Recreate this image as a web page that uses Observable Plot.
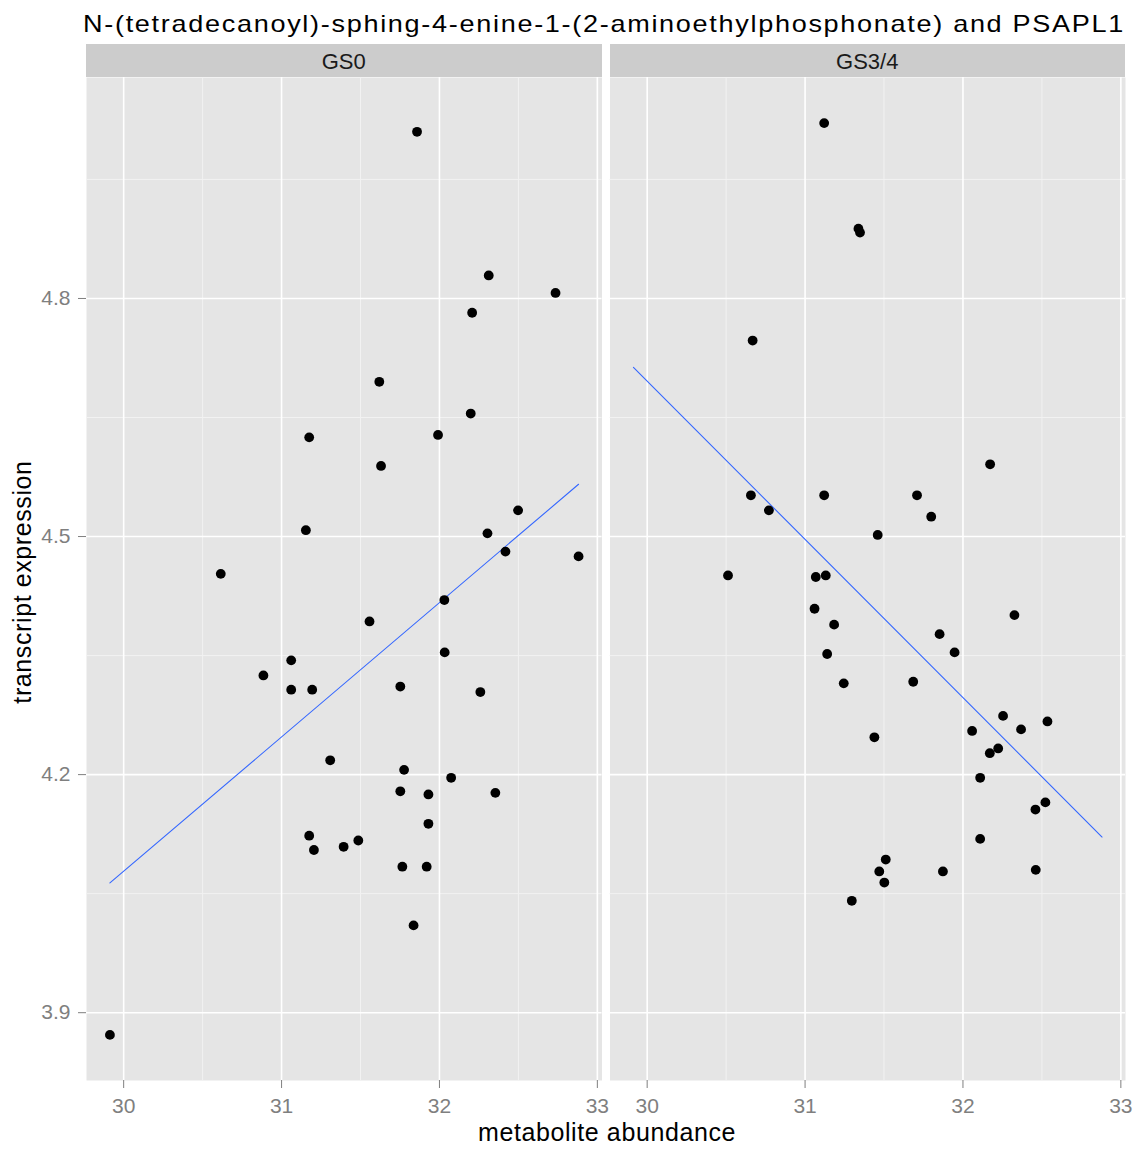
<!DOCTYPE html>
<html>
<head>
<meta charset="utf-8">
<script src="https://cdn.jsdelivr.net/npm/d3@7"></script>
<script src="https://cdn.jsdelivr.net/npm/@observablehq/plot@0.6"></script>
<style>
  body { margin: 0; background: #fff; font-family: "Liberation Sans", Arial, sans-serif; }
  #chart { position: relative; width: 1140px; height: 1149px; overflow: hidden; }
  .abs { position: absolute; white-space: nowrap; }
  .title { left: 604px; top: 12px; font-size: 24px; line-height: 24px; letter-spacing: 1.5px; color: #000; transform: translateX(-50%); transform-origin: 50% 50%; }
  .strip { top: 44px; height: 33px; background: #cccccc; color: #1a1a1a; font-size: 22px; line-height: 33px; text-align: center; padding-top: 1px; box-sizing: border-box; }
  .xtitle { left: 607px; top: 1120px; font-size: 25px; line-height: 25px; letter-spacing: 0.6px; color: #000; transform: translateX(-50%); }
  .ytitle { left: 22px; top: 582px; font-size: 25px; line-height: 25px; letter-spacing: 0.6px; color: #000; transform: translate(-50%, -50%) rotate(-90deg); }
  .panel { top: 77px; }
</style>
</head>
<body>
<div id="chart">
  <div class="abs title" id="title">N-(tetradecanoyl)-sphing-4-enine-1-(2-aminoethylphosphonate) and PSAPL1</div>
  <div class="abs strip" id="strip0" style="left:86px;width:515.5px">GS0</div>
  <div class="abs strip" id="strip1" style="left:609.5px;width:515.5px">GS3/4</div>
  <div class="abs panel" id="p0" style="left:0px"></div>
  <div class="abs panel" id="p1" style="left:609px"></div>
  <div class="abs xtitle">metabolite abundance</div>
  <div class="abs ytitle">transcript expression</div>
</div>
<script>
// Facets and axis ticks
const facets = ["GS0", "GS3/4"];
const xTicks = [30, 31, 32, 33];
const yTicks = [3.9, 4.2, 4.5, 4.8];

// GS0: metabolite abundance (x) and transcript expression (y)
const gs0X = [31.858, 32.312, 32.735, 32.207, 31.619, 32.198, 31.175, 31.991, 31.630, 32.498,
              31.154, 32.304, 32.418, 32.881, 30.615, 32.031, 31.557, 32.033, 31.061, 30.885,
              31.061, 31.194, 31.752, 32.259, 31.308, 31.776, 32.074, 31.752, 31.930, 32.354,
              31.930, 31.175, 31.205, 31.393, 31.486, 31.765, 31.919, 31.836, 29.913];
const gs0Y = [5.010, 4.829, 4.807, 4.782, 4.695, 4.655, 4.625, 4.628, 4.589, 4.533,
              4.508, 4.504, 4.481, 4.475, 4.453, 4.420, 4.393, 4.354, 4.344, 4.325,
              4.307, 4.307, 4.311, 4.304, 4.218, 4.206, 4.196, 4.179, 4.175, 4.177,
              4.138, 4.123, 4.105, 4.109, 4.117, 4.084, 4.084, 4.010, 3.872];

// GS3/4
const gs34X = [31.121, 31.338, 31.348, 30.668, 32.172, 30.657, 31.121, 31.709, 30.771, 31.799,
               31.460, 30.512, 31.068, 31.131, 31.060, 32.326, 31.184, 31.852, 31.140, 31.947,
               31.245, 31.685, 31.439, 32.254, 32.535, 32.058, 32.368, 32.170, 32.223, 32.109,
               32.522, 32.459, 32.109, 31.511, 31.470, 31.502, 31.873, 32.461, 31.296];
const gs34Y = [5.021, 4.888, 4.883, 4.747, 4.591, 4.552, 4.552, 4.552, 4.533, 4.525,
               4.502, 4.451, 4.449, 4.451, 4.409, 4.401, 4.389, 4.377, 4.352, 4.354,
               4.315, 4.317, 4.247, 4.274, 4.267, 4.255, 4.257, 4.227, 4.233, 4.196,
               4.165, 4.156, 4.119, 4.093, 4.078, 4.064, 4.078, 4.080, 4.041];

// Shared scales: data range expanded by 5% on each side
const xExtent = d3.extent(gs0X.concat(gs34X));
const yExtent = d3.extent(gs0Y.concat(gs34Y));
const expand = ([a, b]) => [a - 0.05 * (b - a), b + 0.05 * (b - a)];
const xDomain = expand(xExtent);
const yDomain = expand(yExtent);

// Minor grid lines halfway between the major ticks
function minorTicks(ticks, domain) {
  const step = ticks[1] - ticks[0];
  return [ticks[0] - step / 2, ...ticks.map(t => t + step / 2)]
    .filter(v => v >= domain[0] && v <= domain[1]);
}

// Least-squares fit, drawn across the full x range of the data
function fitLine(xs, ys) {
  const mx = d3.mean(xs), my = d3.mean(ys);
  let sxy = 0, sxx = 0;
  xs.forEach((x, i) => { sxy += (x - mx) * (ys[i] - my); sxx += (x - mx) ** 2; });
  const b = sxy / sxx, a = my - b * mx;
  return xExtent.map(x => ({x, y: a + b * x}));
}

const fmt = d => String(d);

function panel(xs, ys, {width, marginLeft, marginRight, showY}) {
  const pts = xs.map((x, i) => ({x, y: ys[i]}));
  return Plot.plot({
    width,
    height: 1048,
    marginTop: 0,
    marginBottom: 45,
    marginLeft,
    marginRight,
    style: {fontFamily: "'Liberation Sans', Arial, sans-serif", color: "#7f7f7f", background: "transparent", overflow: "visible"},
    x: {domain: xDomain, label: null},
    y: {domain: yDomain, label: null, axis: showY ? undefined : null},
    marks: [
      Plot.frame({fill: "#e5e5e5", stroke: "none"}),
      Plot.ruleX(minorTicks(xTicks, xDomain), {stroke: "#f2f2f2", strokeWidth: 1}),
      Plot.ruleY(minorTicks(yTicks, yDomain), {stroke: "#f2f2f2", strokeWidth: 1}),
      Plot.ruleX(xTicks, {stroke: "#ffffff", strokeWidth: 1.6}),
      Plot.ruleY(yTicks, {stroke: "#ffffff", strokeWidth: 1.6}),
      Plot.axisX(xTicks, {tickSize: 8, tickPadding: 10, fontSize: 21, label: null, tickFormat: fmt}),
      showY ? Plot.axisY(yTicks, {tickSize: 8, tickPadding: 8, fontSize: 21, label: null, tickFormat: fmt}) : null,
      Plot.line(fitLine(xs, ys), {x: "x", y: "y", stroke: "#3366ff", strokeWidth: 1.1}),
      Plot.dot(pts, {x: "x", y: "y", r: 4.9, fill: "#000000"})
    ]
  });
}

document.getElementById("strip0").textContent = facets[0];
document.getElementById("strip1").textContent = facets[1];
document.getElementById("p0").append(panel(gs0X, gs0Y, {width: 602, marginLeft: 86, marginRight: 0.5, showY: true}));
document.getElementById("p1").append(panel(gs34X, gs34Y, {width: 516, marginLeft: 0.5, marginRight: 0, showY: false}));

// Widen the title so that it spans the two panels
const title = document.getElementById("title");
const w = title.getBoundingClientRect().width;
title.style.transform = `translateX(-50%) scaleX(${1042 / w})`;
</script>
</body>
</html>
